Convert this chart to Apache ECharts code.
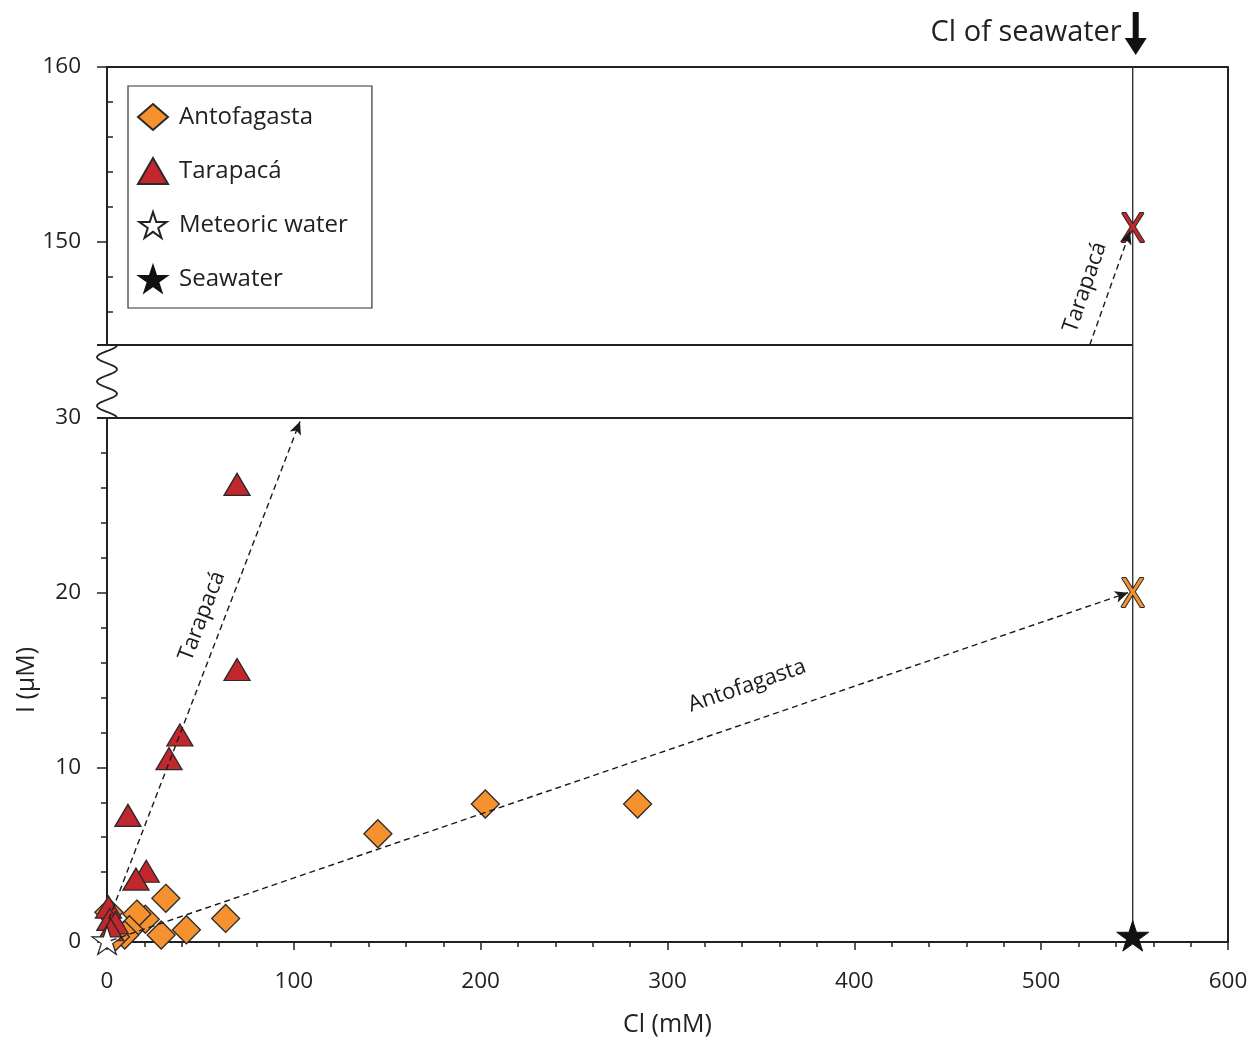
<!DOCTYPE html>
<html>
<head>
<meta charset="utf-8">
<script src="https://cdn.jsdelivr.net/npm/echarts@6/dist/echarts.min.js"></script>
<style>
html,body{margin:0;padding:0;background:#fff;}
#chart{width:1254px;height:1042px;}
</style>
</head>
<body>
<div id="chart"></div>
<script>
// ---- data (Cl in mM, I in µM) ----
const antofagasta = [[284,7.9],[202.5,7.9],[145,6.2],[31.5,2.5],[63.5,1.35],[42.5,0.7],[29,0.4],[20.5,1.3],[16,1.6],[12,0.7],[9.5,0.4],[4.5,0.3],[1,1.7]];
const tarapaca = [[69.6,26.2],[69.6,15.6],[39,11.85],[33.2,10.5],[11.2,7.25],[21,4.05],[15.5,3.6],[0.8,2.0],[1.5,1.3],[4.5,1.1],[2,0.7]];
const meteoric = [[0,0.1]];
const seawater = [[549,0.35]];
const seawaterCl = 549;
const antofagastaAtSeawater = [[549,20.0]];
const tarapacaAtSeawater = [[549,150.8]];
const antofagastaTrend = [[2,0.08],[546.5,20.0]];
const tarapacaTrendLow = [[1,1.3],[103.3,29.8]];
const tarapacaTrendHigh = [[526,144.1],[547.6,150.6]];
const notesLow = [{name:'Tarapacá', value:[50.9,18.65], rot:69},{name:'Antofagasta', value:[342.6,14.66], rot:19}];
const notesHigh = [{name:'Tarapacá', value:[523.5,147.4], rot:71}];
const xTicks = {min:0, max:600, interval:100};
const yLow = {min:0, max:30, interval:10};
const yHigh = {min:144.1, max:160};
const yHighLabels = [150,160];
const yHighMinor = [146,148,152,154,156,158];

const FONT = 'Open Sans';
const INK = '#222';
const ORANGE = '#F5922F';
const RED = '#C1272D';
const STAR = 'path://M50,0L61.2,34.5L97.6,34.5L68.2,55.9L79.4,90.5L50,69.1L20.6,90.5L31.8,55.9L2.4,34.5L38.8,34.5Z';
const CLEAR = {color:'rgba(0,0,0,0)', opacity:1};

const chart = echarts.init(document.getElementById('chart'));

const trendLine = (pts) => [{coord: pts[0]}, {coord: pts[1]}];
const mlStyle = {color: '#1a1a1a', type: [6,4], width: 1.4, opacity: 1};
const noteLabel = (n) => ({show:true, position:'inside', formatter:n.name, rotate:n.rot,
  fontSize:22, color:'#1a1a1a', fontFamily:FONT, opacity:1});

const option = {
  animation: false,
  backgroundColor: '#fff',
  textStyle: {fontFamily: FONT},
  grid: [
    {left:107, right:26, top:67, height:278, show:false},
    {left:107, right:26, top:418, height:526, show:false}
  ],
  xAxis: [
    {gridIndex:0, type:'value', min:xTicks.min, max:xTicks.max, position:'top',
     axisLine:{show:true, onZero:false, lineStyle:{color:INK, width:2}},
     axisTick:{show:false}, axisLabel:{show:false}, splitLine:{show:false}},
    {gridIndex:1, type:'value', min:xTicks.min, max:xTicks.max, interval:xTicks.interval,
     name:'Cl (mM)', nameLocation:'middle', nameGap:70,
     nameTextStyle:{fontSize:25, color:INK, fontFamily:FONT},
     axisLine:{show:true, onZero:false, lineStyle:{color:INK, width:2}},
     axisTick:{show:true, length:8, lineStyle:{color:INK, width:1.5}},
     minorTick:{show:true, splitNumber:5, length:5, lineStyle:{color:INK, width:1.5}},
     axisLabel:{fontSize:22.5, color:INK, margin:28, fontFamily:FONT},
     splitLine:{show:false}, minorSplitLine:{show:false}}
  ],
  yAxis: [
    {gridIndex:0, type:'value', min:yHigh.min, max:yHigh.max,
     axisLine:{show:true, onZero:false, lineStyle:{color:INK, width:2}},
     axisTick:{show:true, length:10, customValues:yHighLabels, lineStyle:{color:INK, width:1.5}},
     axisLabel:{fontSize:22.5, color:INK, margin:26, customValues:yHighLabels, fontFamily:FONT},
     splitLine:{show:false}},
    {gridIndex:0, type:'value', min:yHigh.min, max:yHigh.max,
     axisLine:{show:false},
     axisTick:{show:true, length:6, customValues:yHighMinor, lineStyle:{color:INK, width:1.5}},
     axisLabel:{show:false}, splitLine:{show:false}},
    {gridIndex:1, type:'value', min:yLow.min, max:yLow.max, interval:yLow.interval,
     name:'I (µM)', nameLocation:'middle', nameGap:68,
     nameTextStyle:{fontSize:25, color:INK, fontFamily:FONT},
     axisLine:{show:true, onZero:false, lineStyle:{color:INK, width:2}},
     axisTick:{show:true, length:10, lineStyle:{color:INK, width:1.5}},
     minorTick:{show:true, splitNumber:5, length:6, lineStyle:{color:INK, width:1.5}},
     axisLabel:{fontSize:22.5, color:INK, margin:26, fontFamily:FONT},
     splitLine:{show:false}, minorSplitLine:{show:false}}
  ],
  legend: {
    orient:'vertical', left:128, top:86,
    padding:[17,24,15,9], itemGap:26, itemWidth:30, itemHeight:26,
    borderColor:'#333', borderWidth:1.2, backgroundColor:'#fff',
    selectedMode:false,
    textStyle:{fontSize:24, lineHeight:24, height:24, color:INK, fontFamily:FONT, padding:[0,0,0,6]},
    data:['Antofagasta','Tarapacá','Meteoric water','Seawater']
  },
  series: [
    {name:'trends-low', type:'scatter', xAxisIndex:1, yAxisIndex:2, data:[], silent:true,
     markLine:{silent:true, symbol:['none','arrow'], symbolSize:[9,13], label:{show:false},
       lineStyle:mlStyle, data:[trendLine(antofagastaTrend), trendLine(tarapacaTrendLow)]}},
    {name:'trends-high', type:'scatter', xAxisIndex:0, yAxisIndex:0, data:[], silent:true,
     markLine:{silent:true, symbol:['none','arrow'], symbolSize:[9,13], label:{show:false},
       lineStyle:mlStyle, data:[trendLine(tarapacaTrendHigh)]}},
    {name:'Antofagasta', type:'scatter', xAxisIndex:1, yAxisIndex:2, clip:false,
     symbol:'diamond', symbolSize:[28,28], data:antofagasta,
     itemStyle:{color:ORANGE, borderColor:'#2a2a2a', borderWidth:1.3, opacity:1}},
    {name:'Tarapacá', type:'scatter', xAxisIndex:1, yAxisIndex:2, clip:false,
     symbol:'triangle', symbolSize:[26,22], data:tarapaca,
     itemStyle:{color:RED, borderColor:'#2a2a2a', borderWidth:1.3, opacity:1}},
    {name:'Meteoric water', type:'scatter', xAxisIndex:1, yAxisIndex:2, clip:false,
     symbol:STAR, symbolKeepAspect:true, symbolSize:30, data:meteoric,
     itemStyle:{color:'#fff', borderColor:'#222', borderWidth:1.2, opacity:1}},
    {name:'Seawater', type:'scatter', xAxisIndex:1, yAxisIndex:2, clip:false,
     symbol:STAR, symbolKeepAspect:true, symbolSize:32, data:seawater,
     itemStyle:{color:'#111', borderColor:'#111', borderWidth:1, opacity:1}},
    {name:'Antofagasta at seawater', type:'scatter', xAxisIndex:1, yAxisIndex:2, clip:false, silent:true,
     symbolSize:1, itemStyle:CLEAR, data:antofagastaAtSeawater,
     label:{show:true, position:'inside', formatter:'X', fontSize:40, fontFamily:FONT, offset:[0,3],
       color:ORANGE, textBorderColor:'#2a2a2a', textBorderWidth:2, opacity:1}},
    {name:'Tarapacá at seawater', type:'scatter', xAxisIndex:0, yAxisIndex:0, clip:false, silent:true,
     symbolSize:1, itemStyle:CLEAR, data:tarapacaAtSeawater,
     label:{show:true, position:'inside', formatter:'X', fontSize:40, fontFamily:FONT, offset:[0,3],
       color:RED, textBorderColor:'#2a2a2a', textBorderWidth:2, opacity:1}},
    {name:'notes-low', type:'scatter', xAxisIndex:1, yAxisIndex:2, clip:false, silent:true,
     symbolSize:1, itemStyle:CLEAR,
     data: notesLow.map(n => ({name:n.name, value:n.value, label:noteLabel(n)}))},
    {name:'notes-high', type:'scatter', xAxisIndex:0, yAxisIndex:0, clip:false, silent:true,
     symbolSize:1, itemStyle:CLEAR,
     data: notesHigh.map(n => ({name:n.name, value:n.value, label:noteLabel(n)}))}
  ]
};
chart.setOption(option);

// ---- frame decorations derived from the axes ----
const px = (v) => chart.convertToPixel({xAxisIndex:1}, v);
const xL = px(xTicks.min), xR = px(xTicks.max), xS = px(seawaterCl);
const yTop = chart.convertToPixel({yAxisIndex:0}, yHigh.max);
const yUB = chart.convertToPixel({yAxisIndex:0}, yHigh.min);
const yLT = chart.convertToPixel({yAxisIndex:2}, yLow.max);
const yBot = chart.convertToPixel({yAxisIndex:2}, yLow.min);

const wave = [];
const N = 120, amp = 10, periods = 3;
for (let i = 0; i <= N; i++) {
  const t = i / N;
  wave.push([xL + amp * Math.cos(2 * Math.PI * periods * t), yUB + (yLT - yUB) * t]);
}
const ax = xS + 3;
chart.setOption({
  graphic: [
    {type:'line', shape:{x1:xR, y1:yTop, x2:xR, y2:yBot}, style:{stroke:INK, lineWidth:2}, z:10},
    {type:'line', shape:{x1:xS, y1:yTop, x2:xS, y2:yBot}, style:{stroke:'#333', lineWidth:1.4}, z:1},
    {type:'line', shape:{x1:xL-10, y1:yUB, x2:xS, y2:yUB}, style:{stroke:INK, lineWidth:2}, z:10},
    {type:'line', shape:{x1:xL-10, y1:yLT, x2:xS, y2:yLT}, style:{stroke:INK, lineWidth:2}, z:10},
    {type:'polyline', shape:{points:wave}, style:{stroke:INK, lineWidth:1.8, fill:null}, z:10},
    {type:'text', x:xS-11, y:yTop-34, style:{text:'Cl of seawater', fontSize:29, fontFamily:FONT, fill:INK, align:'right', verticalAlign:'middle'}, z:10},
    {type:'polygon', shape:{points:[
      [ax-3, yTop-55],[ax+3, yTop-55],[ax+3, yTop-29],[ax+11, yTop-29],
      [ax, yTop-12],[ax-11, yTop-29],[ax-3, yTop-29]]},
     style:{fill:'#111'}, z:10}
  ]
});
</script>
</body>
</html>
